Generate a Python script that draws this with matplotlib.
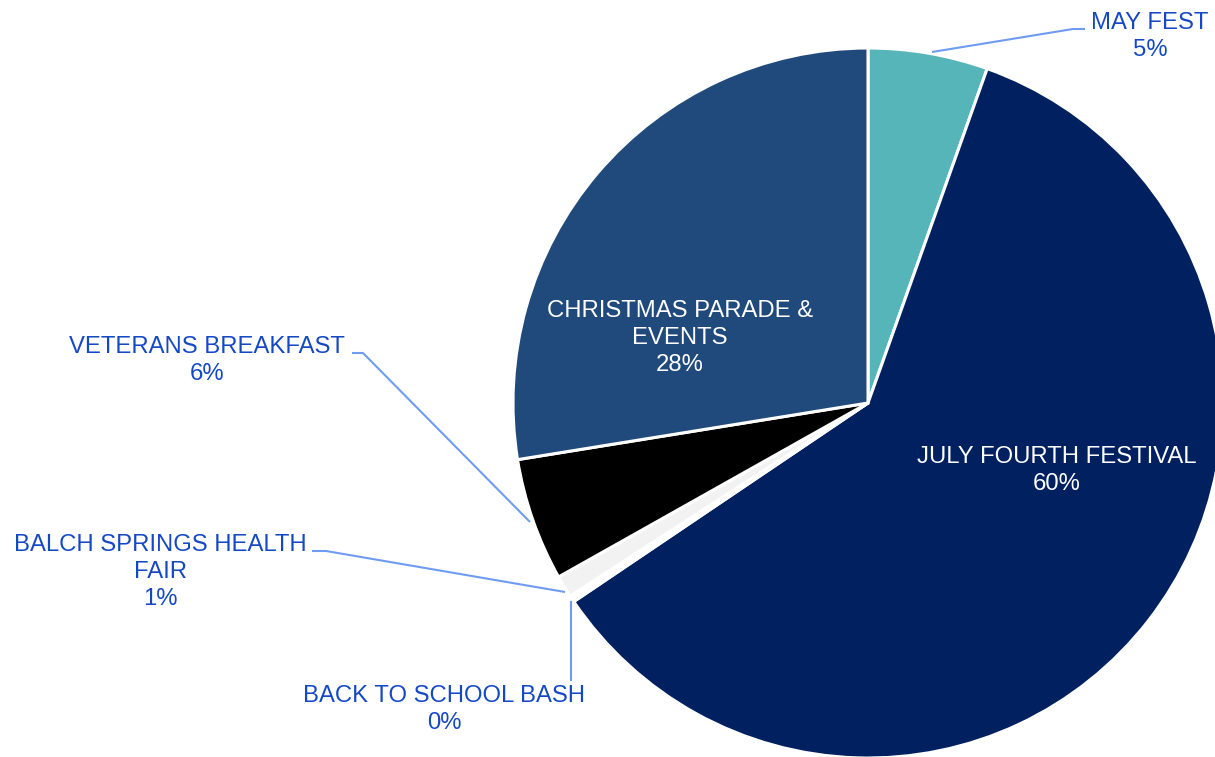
import matplotlib.pyplot as plt

plt.rcParams['font.family'] = ['Liberation Sans', 'DejaVu Sans']

# share of spending per event (percent)
events = ["MAY FEST", "JULY FOURTH FESTIVAL", "BACK TO SCHOOL BASH",
          "BALCH SPRINGS HEALTH\nFAIR", "VETERANS BREAKFAST",
          "CHRISTMAS PARADE &\nEVENTS"]
values = [5.45, 60.1, 0.3, 1.0, 5.6, 27.55]
colors = ["#56b5b8", "#002060", "#ffffff", "#f2f2f2", "#000000", "#214a7c"]

W, H = 1215, 757


def py(y):
    # pixel row (from top) -> data y
    return H - y


def main():
    fig = plt.figure(figsize=(W / 100, H / 100), dpi=100)
    ax = fig.add_axes([0, 0, 1, 1])

    ax.pie(values, colors=colors, startangle=90, counterclock=False,
           center=(868, py(403)), radius=355,
           wedgeprops=dict(edgecolor="white", linewidth=2.2))
    ax.set_xlim(0, W)
    ax.set_ylim(0, H)
    ax.set_aspect('equal')
    ax.axis('off')

    total = sum(values)
    pcts = ["{:.0f}%".format(v / total * 100) for v in values]

    label_blue = "#1549c4"
    line_blue = "#6f9cf2"
    fs = 17.2

    # label anchor (center x, top y of first line) in pixels
    spots = [(1150, 12), (1057, 446), (444, 685), (160, 534), (207, 336), (680, 300)]
    for i, (x, y) in enumerate(spots):
        col = "white" if i in (1, 5) else label_blue
        ax.text(x, py(y), events[i] + "\n" + pcts[i], ha="center", va="top",
                fontsize=fs, color=col, linespacing=1.28)

    # leader lines
    leaders = [
        [(932, 52), (1073, 29), (1085, 29)],
        [(571, 601), (571, 681)],
        [(312, 551), (326, 551), (565, 592)],
        [(352, 353), (363, 353), (530, 522)],
    ]
    for pts in leaders:
        xs = [p[0] for p in pts]
        ys = [py(p[1]) for p in pts]
        ax.plot(xs, ys, color=line_blue, linewidth=1.5, solid_capstyle="butt")

    plt.savefig("out.png", dpi=100)


if __name__ == "__main__":
    main()
